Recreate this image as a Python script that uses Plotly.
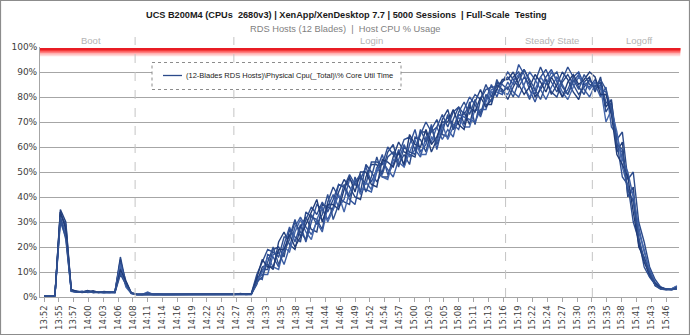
import pandas as pd
import plotly.graph_objects as go

# ---------------- data (CPU % per blade, one sample per minute from 13:52) ----------------
START = "2016-01-20 13:52:00"
N_SAMPLES = 117

blade01 = [0.5,0.5,0.6, 34,28,2.6, 2.1,2.0,2.4,1.8,1.9,1.7,1.8,2.0, 16,5.5,1.6,
           1.1,1.0,1.2,1.0,1.0,1.1,1.0,1.0,1.1,1.0,1.2,1.0,1.0,1.1,1.0,1.0,1.1,1.0,1.0,1.0,1.1,
           1.3,6.5,
           11,11,19,20,16,27,24,22,34,32,31,27,38,44,40,38,37,48,42,53,50,46,50,58,61,53,57,53,64,63,58,67,71,65,64,71,76,69,78,69,79,85,80,86,85,
           83,88,90,84,79,86,92,87,82,80,86,89,85,81,84,87,
           84,86,74,78,63,66,47,50,30,22,12,7,4,3,3.1,3.6]
blade02 = [0.4,0.5,0.5, 32,25,2.3, 2.0,2.2,1.9,2.1,1.8,1.9,1.7,1.9, 12,6,1.4,
           1.0,1.1,1.0,1.0,1.2,1.0,1.0,1.0,1.1,1.0,1.0,1.0,1.1,1.3,1.0,1.0,1.0,1.1,1.0,1.0,1.0,
           1.1,8,
           7,17,16,12,21,28,22,29,22,30,37,35,31,36,45,44,39,37,47,52,46,51,57,49,53,59,52,61,67,58,61,69,59,68,72,69,67,75,80,77,72,79,85,80,86,
           88,85,93,89,83,78,84,88,91,86,80,83,88,90,85,84,
           87,83,82,74,60,58,43,38,22,15,8,5.5,3.6,3.2,3.0,3.3]
blade03 = [0.5,0.4,0.6, 35,30,2.8, 2.2,1.9,2.6,1.8,2.0,1.8,2.1,1.9, 15,4.5,1.5,
           1.0,1.0,1.0,1.1,1.0,1.0,1.0,1.1,1.0,1.0,1.0,1.0,1.0,1.0,1.0,1.1,1.0,1.0,1.0,1.4,1.0,
           1.2,5,
           12,13,11,22,26,21,19,28,32,27,26,37,36,35,42,47,44,40,39,48,53,53,48,48,56,62,58,57,56,66,66,58,63,71,75,67,70,74,69,78,83,77,77,85,83,
           79,84,88,91,86,80,83,87,81,85,90,87,82,79,86,88,
           82,88,76,79,58,62,40,44,20,16,10,4.5,3.2,2.9,3.2,4.2]
blade04 = [0.5,0.5,0.5, 30,24,2.2, 1.9,2.1,2.0,1.7,1.8,2.0,1.8,1.8, 10,5,1.5,
           1.0,1.0,2.0,1.0,1.0,1.0,1.0,1.0,1.0,1.0,1.0,1.1,1.0,1.0,1.0,1.0,1.0,1.0,1.1,1.0,1.0,
           1.0,7,
           9,9,17,18,13,20,28,32,28,25,30,26,36,41,36,39,47,45,43,43,42,50,54,51,48,55,61,56,59,56,64,62,68,63,67,64,73,72,71,70,75,75,82,82,81,
           86,82,80,85,90,87,83,79,84,88,85,81,86,89,83,80,
           85,80,84,68,65,55,50,40,28,18,11,6,4,3.1,3.0,3.2]
blade05 = [0.4,0.5,0.6, 33,29,2.5, 2.3,2.0,2.2,1.9,2.0,1.7,1.9,2.1, 14,6.5,1.7,
           1.1,1.0,1.0,1.0,1.0,1.0,1.0,1.0,1.0,1.0,1.0,1.0,1.2,1.0,1.0,1.0,1.0,1.0,1.0,1.0,1.1,
           1.4,9,
           14,19,18,16,24,24,31,24,31,36,33,38,34,39,45,44,49,45,48,45,54,54,53,60,57,57,63,64,59,65,70,66,68,73,68,74,76,73,77,81,79,83,84,84,86,
           90,87,84,88,85,81,88,91,86,82,87,92,88,84,81,87,
           83,85,78,76,62,48,45,30,23,12,8,5,3.5,3.3,3.1,3.4]
blade06 = [0.5,0.5,0.5, 31,26,2.4, 2.0,2.3,1.8,2.0,1.9,1.8,1.7,2.0, 13,4,1.4,
           1.0,1.0,1.1,1.0,1.0,1.0,1.0,1.0,1.0,1.2,1.0,1.0,1.0,1.0,1.0,1.0,1.0,1.0,1.0,1.0,1.0,
           1.1,5.5,
           10,16,12,11,20,18,26,31,26,23,31,36,30,35,41,34,42,47,41,46,43,52,48,47,55,54,52,58,63,57,57,64,62,69,63,68,72,68,68,75,74,78,83,83,82,
           81,86,89,84,80,83,88,85,90,87,82,79,84,88,86,83,
           86,84,70,75,66,52,44,41,26,19,10,5,3.3,3.0,3.3,4.5]
blade07 = [0.5,0.6,0.5, 34,27,3.0, 2.1,1.8,2.1,2.5,1.8,2.2,1.9,1.8, 11,6,1.6,
           1.0,1.0,1.0,1.0,1.0,1.0,1.0,1.0,1.0,1.0,1.0,1.0,1.0,1.0,1.0,1.0,1.0,1.0,1.0,1.0,1.0,
           1.2,7.5,
           15,12,12,19,19,25,20,24,29,34,39,30,37,37,35,43,48,42,50,50,45,44,55,54,52,58,53,65,61,60,67,61,64,70,70,75,69,67,76,74,80,76,79,83,87,
           87,90,85,81,84,89,86,82,88,84,80,86,89,85,87,90,
           88,81,81,73,57,53,48,34,21,14,9,5.5,3.8,3.1,2.9,3.5]
blade08 = [0.5,0.5,0.6, 32,23,2.4, 1.9,2.0,2.3,1.8,2.1,1.9,2.0,1.7, 9,5,1.5,
           1.0,1.0,1.0,1.0,1.0,1.1,1.0,1.0,1.0,1.0,1.0,1.0,1.0,1.0,1.0,1.0,1.0,1.0,1.0,1.0,1.0,
           1.0,6,
           8,14,20,13,18,23,30,26,23,33,29,33,41,31,37,45,40,46,49,42,48,56,49,56,58,52,60,58,57,67,62,68,61,66,73,67,74,78,73,79,73,81,78,87,82,
           84,80,86,91,87,83,79,85,88,90,84,81,87,83,89,85,
           84,87,83,75,61,59,41,39,24,15,10,4.8,3.3,3.0,3.0,3.3]

blades = [blade01, blade02, blade03, blade04, blade05, blade06, blade07, blade08]

tick_labels = ["13:52","13:55","13:57","14:00","14:03","14:06","14:08","14:11","14:14","14:16",
               "14:19","14:22","14:25","14:27","14:30","14:33","14:35","14:38","14:41","14:44",
               "14:46","14:49","14:52","14:54","14:57","15:00","15:03","15:05","15:08","15:11",
               "15:13","15:16","15:19","15:22","15:24","15:27","15:30","15:33","15:35","15:38",
               "15:41","15:43","15:46"]
LAST_LABEL_MIN = 114  # 13:52 -> 15:46

phase_bounds = ["2016-01-20 14:08:42", "2016-01-20 14:26:48",
                "2016-01-20 15:16:36", "2016-01-20 15:32:30"]
phase_names = ["Boot", "Login", "Steady State", "Logoff"]
phase_label_at = ["2016-01-20 14:00:36", "2016-01-20 14:52:06",
                  "2016-01-20 15:25:06", "2016-01-20 15:41:06"]

title = "UCS B200M4 (CPUs  2680v3) | XenApp/XenDesktop 7.7 | 5000 Sessions  | Full-Scale  Testing"
subtitle = "RDS Hosts (12 Blades)  |  Host CPU % Usage"
legend_text = "(12-Blades RDS Hosts)\\Physical Cpu(_Total)\\% Core Util Time"

# ---------------- figure ----------------
t0 = pd.Timestamp(START)
times = pd.date_range(START, periods=N_SAMPLES, freq="1min")
colors = ["#2B4A8A", "#32539A", "#24417E", "#3A5CA2", "#2E4E90", "#4466AA", "#213C78", "#30508F"]

fig = go.Figure()
for i, b in enumerate(blades):
    fig.add_trace(go.Scatter(x=times[:len(b)], y=b, mode="lines",
                             line=dict(color=colors[i % len(colors)], width=1.4),
                             showlegend=False, hoverinfo="skip"))

W, H = 690, 336
ML, MR, MT, MB = 40, 11, 47, 39
PW, PH = W - ML - MR, H - MT - MB
px_per_min = 622 / LAST_LABEL_MIN
x_lo = t0 - pd.Timedelta(minutes=4 / px_per_min)
x_hi = x_lo + pd.Timedelta(minutes=PW / px_per_min)
tickvals = [t0 + pd.Timedelta(minutes=LAST_LABEL_MIN * k / (len(tick_labels) - 1))
            for k in range(len(tick_labels))]

def px_x(p):
    return (p - ML) / PW

def px_y(p):
    return (H - MB - p) / PH

shapes = []
# red "100%" band with gradient
for y0, y1, c in [(96.3, 99.6, "#FFDADA"), (97.0, 99.6, "#FFB0B0"), (97.7, 99.6, "#FF7070"),
                  (98.3, 99.6, "#F43A3A"), (98.8, 99.6, "#E81C24")]:
    shapes.append(dict(type="rect", xref="paper", yref="y", x0=0, x1=1.002, y0=y0, y1=y1,
                       fillcolor=c, line=dict(width=0), layer="above"))
# phase boundary dashed lines
for pb in phase_bounds:
    shapes.append(dict(type="line", xref="x", yref="paper", x0=pb, x1=pb, y0=0, y1=px_y(37),
                       line=dict(color="#C4C4C4", width=1, dash="dash"), layer="above"))
# legend box (dashed) and line sample
shapes.append(dict(type="rect", xref="paper", yref="paper", x0=px_x(152), x1=px_x(401),
                   y0=px_y(89.5), y1=px_y(62.5), fillcolor="white",
                   line=dict(color="#8C8C8C", width=1, dash="dot"), layer="above"))
shapes.append(dict(type="line", xref="paper", yref="paper", x0=px_x(163), x1=px_x(182),
                   y0=px_y(75.5), y1=px_y(75.5), line=dict(color="#2B4A8A", width=1.3),
                   layer="above"))
# outer chart border
shapes.append(dict(type="rect", xref="paper", yref="paper", x0=px_x(0.5), x1=px_x(689.5),
                   y0=px_y(334.5), y1=px_y(0.5), line=dict(color="#8C8C8C", width=1.2),
                   layer="above"))

annotations = [
    dict(text="<b>" + title + "</b>", xref="paper", yref="paper", x=px_x(346), y=px_y(14.5),
         showarrow=False, font=dict(family="Liberation Sans, Arial", size=9.2, color="#1A1A1A"),
         xanchor="center", yanchor="middle"),
    dict(text=subtitle, xref="paper", yref="paper", x=px_x(345), y=px_y(29),
         showarrow=False, font=dict(family="Liberation Sans, Arial", size=9.3, color="#7F7F7F"),
         xanchor="center", yanchor="middle"),
    dict(text=legend_text, xref="paper", yref="paper", x=px_x(184), y=px_y(75.5),
         showarrow=False, font=dict(family="Liberation Sans, Arial", size=7.5, color="#1A1A1A"),
         xanchor="left", yanchor="middle"),
]
for name, at in zip(phase_names, phase_label_at):
    annotations.append(dict(text=name, xref="x", yref="paper", x=at, y=px_y(41),
                            showarrow=False, xanchor="center", yanchor="middle",
                            font=dict(family="Liberation Sans, Arial", size=9.5, color="#B4B4B4")))

fig.update_layout(
    width=W, height=H, margin=dict(l=ML, r=MR, t=MT, b=MB, pad=0),
    paper_bgcolor="white", plot_bgcolor="white",
    shapes=shapes, annotations=annotations, showlegend=False,
    font=dict(family="DejaVu Sans, Verdana", size=9, color="#404040"),
)
fig.update_xaxes(type="date", range=[x_lo, x_hi], tickmode="array", tickvals=tickvals,
                 ticktext=tick_labels, tickangle=-90, showgrid=False, showline=True,
                 linecolor="#A6A6A6", linewidth=1, ticks="outside", ticklen=4,
                 tickcolor="#A6A6A6", automargin=False,
                 tickfont=dict(family="DejaVu Sans, Verdana", size=8.5, color="#404040"),
                 zeroline=False)
fig.update_yaxes(range=[0, 100], dtick=10, ticksuffix="%", showgrid=True, gridcolor="#A6A6A6",
                 gridwidth=1, showline=True, linecolor="#A6A6A6", linewidth=1, zeroline=False,
                 ticks="", automargin=False,
                 tickfont=dict(family="DejaVu Sans, Verdana", size=9, color="#404040"))

fig.write_html("out.html")
